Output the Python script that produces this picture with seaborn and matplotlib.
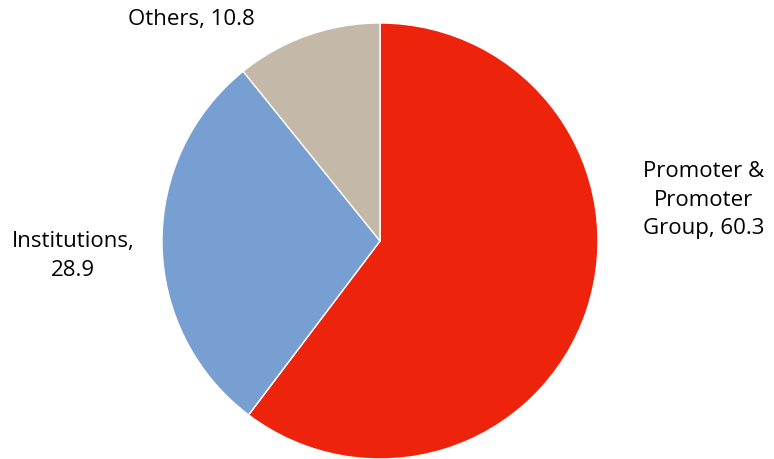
import matplotlib.pyplot as plt
import seaborn as sns

labels = ["Promoter &\nPromoter\nGroup, 60.3", "Institutions,\n28.9", "Others, 10.8"]
values = [60.3, 28.9, 10.8]
colors = ["#EE230C", "#779FD1", "#C4B9A9"]
label_pos = [(1.486, 0.188), (-1.408, -0.069), (-0.867, 1.014)]

sns.set_theme(style="white")
plt.rcParams['font.family'] = ['Open Sans', 'DejaVu Sans']

fig = plt.figure(figsize=(7.74, 4.59), dpi=100)
ax = fig.add_axes([0, 0, 1, 1])

wedges, _ = ax.pie(values, colors=colors, startangle=90, counterclock=False,
                   radius=1, center=(0, 0),
                   wedgeprops=dict(edgecolor="white", linewidth=1))

for lab, (x, y) in zip(labels, label_pos):
    ax.text(x, y, lab, ha="center", va="center", fontsize=16, color="black",
            linespacing=1.45)

ax.set_xlim(-380 / 218, 394 / 218)
ax.set_ylim(-218 / 218, 241 / 218)
ax.set_aspect("equal")
ax.axis("off")

plt.savefig("out.png", dpi=100)
